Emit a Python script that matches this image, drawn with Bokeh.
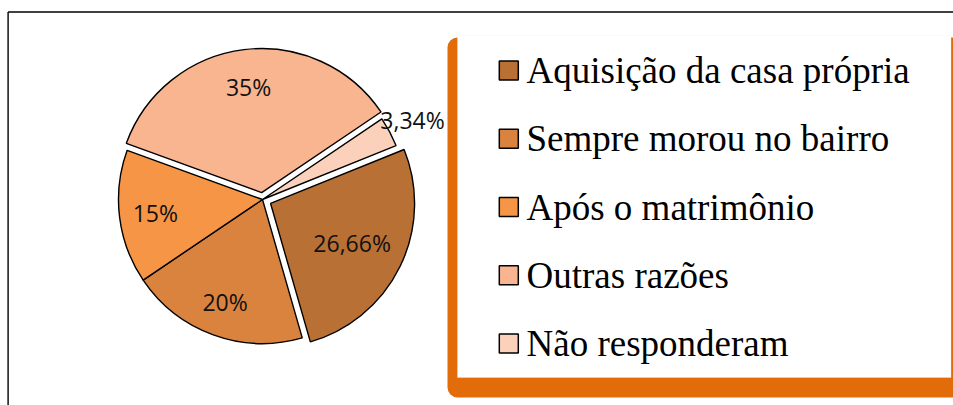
import math
from bokeh.plotting import figure
from bokeh.models import Range1d, BoxAnnotation, ColumnDataSource
from bokeh.core.properties import value
from bokeh.embed import file_html
from bokeh.resources import INLINE

# ---- data ----
categories = ["Aquisição da casa própria", "Sempre morou no bairro",
              "Após o matrimônio", "Outras razões", "Não responderam"]
values = [26.66, 20.0, 15.0, 35.0, 3.34]
labels = ["26,66%", "20%", "15%", "35%", "3,34%"]
colors = ["#B97034", "#D9833F", "#F69546", "#F8B58F", "#FBD1BB"]

# ---- style ----
explode = [9, 0, 0, 7, 0]                 # px offset of exploded slices
label_frac = [0.63, 0.76, 0.75, 0.74, 1.18]  # label distance as fraction of radius
first_angle = 68.0                        # degrees clockwise from 12 o'clock
R = 144
W, H = 953, 405
CX, CY = 262, H - 199

p = figure(width=W, height=H, output_backend="svg", toolbar_location=None,
           x_range=Range1d(0, W), y_range=Range1d(0, H),
           min_border=0, background_fill_color="white", border_fill_color="white")
p.axis.visible = False
p.grid.visible = False
p.outline_line_color = None

# outer chart border (partial, visible part)
p.segment(x0=[7.6, 7.6], y0=[0, H - 11.5], x1=[7.6, W], y1=[H - 11.5, H - 11.5],
          line_color="black", line_width=1.4)

# pie
total = sum(values)
xs, ys, sa, ea, lx, ly = [], [], [], [], [], []
acc = first_angle
for v, ex, lf in zip(values, explode, label_frac):
    span = v / total * 360.0
    mid = acc + span / 2
    dx = math.sin(math.radians(mid))
    dy = math.cos(math.radians(mid))
    cx = CX + ex * dx
    cy = CY + ex * dy
    xs.append(cx)
    ys.append(cy)
    sa.append(math.radians(90 - acc))
    ea.append(math.radians(90 - acc - span))
    lx.append(cx + lf * R * dx)
    ly.append(cy + lf * R * dy)
    acc += span

src = ColumnDataSource(dict(x=xs, y=ys, sa=sa, ea=ea, color=colors,
                            lx=lx, ly=ly, label=labels, cat=categories, val=values))
p.wedge(x="x", y="y", radius=R, start_angle="sa", end_angle="ea", direction="clock",
        fill_color="color", line_color="black", line_width=1.4, source=src)
p.text(x="lx", y="ly", text="label", source=src, text_align="center",
       text_baseline="middle", text_font=value("Open Sans"), text_font_size="23px",
       text_color="#111111")

# legend box (orange shadow + white panel)
p.add_layout(BoxAnnotation(left=447, right=970, top=H - 37, bottom=H - 397,
                           fill_color="#E36C0A", fill_alpha=1.0, line_color=None,
                           border_radius=10, level="glyph"))
p.add_layout(BoxAnnotation(left=457, right=950.5, top=H - 35, bottom=H - 377,
                           fill_color="white", fill_alpha=1.0, line_color="#F2F2F2",
                           line_width=1, level="glyph"))

# legend entries
row0 = H - 70
step = 68.25
lyy = [row0 - i * step for i in range(len(categories))]
leg = ColumnDataSource(dict(x=[508.3] * len(categories), y=lyy, color=colors,
                            tx=[526] * len(categories), ty=lyy, cat=categories))
l1 = p.rect(x="x", y="y", width=19, height=19, fill_color="color",
            line_color="black", line_width=1.5, source=leg)
t1 = p.text(x="tx", y="ty", text="cat", source=leg, text_align="left",
            text_baseline="middle", text_font=value("Liberation Serif"),
            text_font_size="37px", text_color="black")
l1.level = "overlay"
t1.level = "overlay"

open("out.html", "w").write(file_html(p, INLINE))
